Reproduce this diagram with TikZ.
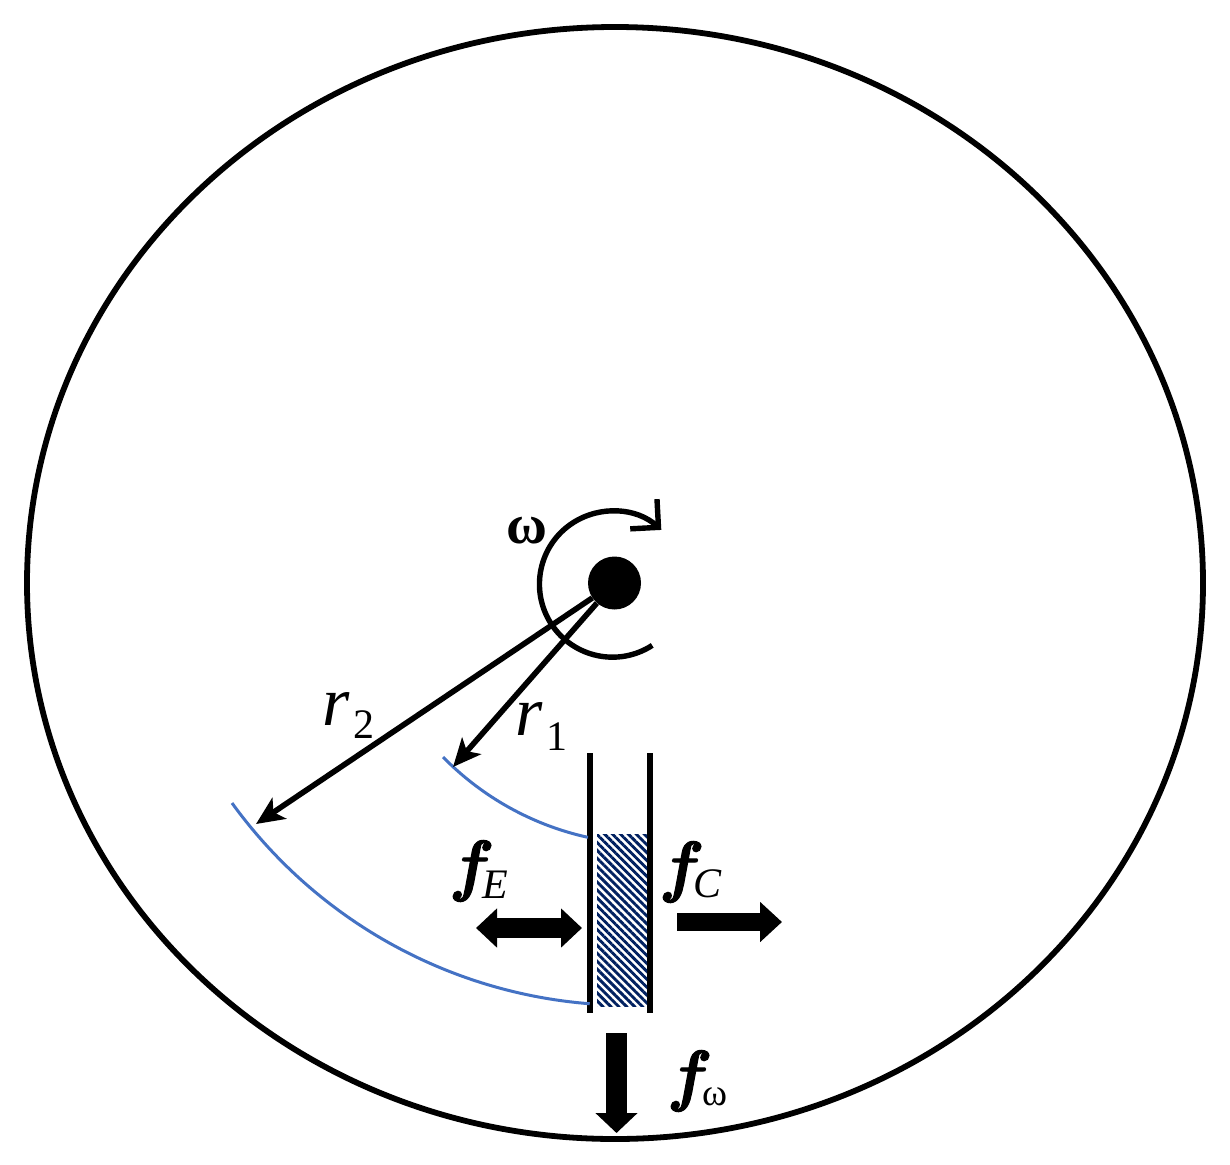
\documentclass[tikz,border=0pt]{standalone}
\usepackage{fontspec}
\setmainfont{Liberation Serif}
\newfontface\boldffont{lmroman10-bolditalic.otf}[FakeBold=1.6]
\usetikzlibrary{arrows.meta,patterns.meta}
\definecolor{arcblue}{RGB}{68,114,196}
\definecolor{hatchnavy}{RGB}{0,32,96}
\newcommand\myfs[1]{\fontsize{#1}{#1}\selectfont}
\newcommand\boldf{{\boldffont f}}
\begin{document}
\begin{tikzpicture}[x=1pt,y=-1pt,
  discline/.style={line width=5.8pt},
  blackline/.style={line width=5.4pt},
  blueline/.style={arcblue, line width=3pt},
  lbl/.style={inner sep=0pt, outer sep=0pt, anchor=base},
  radarrow/.style={line width=5.6pt, -{Stealth[length=28pt,width=25pt,inset=7pt]}},
  ]
\useasboundingbox (0,0) rectangle (1230,1164);
% outer disc
\draw[discline] (615,583) ellipse [x radius=588, y radius=556];
% hub
\node[circle, fill=black, minimum size=53pt, inner sep=0pt] (hub) at (614.5,583) {};
% rotation arrow
\draw[blackline, -{Straight Barb[length=20pt,width=40pt]}] (613,585) ++(57:72) arc[start angle=57, end angle=312, radius=73];
% tube
\draw[blackline] (590,753) -- (590,1013);
\draw[blackline] (650,753) -- (650,1013);
\path[pattern={Lines[angle=-45,distance=5.6pt,line width=2.9pt]}, pattern color=hatchnavy] (597,834) rectangle (647,1006);
% blue arcs
\draw[blueline] (443,757) arc[start angle=135.6, end angle=102.4, radius=290];
\draw[blueline] (232,803) arc[start angle=144.1, end angle=94.5, radius=489];
% radius arrows
\coordinate (r1tip) at (453,767);
\coordinate (r2tip) at (256,824);
\draw[radarrow] (hub) -- (r1tip);
\draw[radarrow] (hub) -- (r2tip);
% force arrows
\coordinate (feL) at (476,928);
\coordinate (feR) at (582,928);
\draw[line width=20pt, {Triangle[length=21pt,width=38pt]}-{Triangle[length=21pt,width=38pt]}] (feL) -- (feR);
\coordinate (fcS) at (677,922);
\coordinate (fcE) at (782,922);
\draw[line width=18pt, -{Triangle[length=22pt,width=39pt]}] (fcS) -- (fcE);
\coordinate (fwS) at (616.5,1033);
\coordinate (fwE) at (616.5,1133);
\draw[line width=21pt, -{Triangle[length=20pt,width=41pt]}] (fwS) -- (fwE);
% labels
\node[lbl] (omega) at (527,543) {\myfs{56}\bfseries ω};
\node[lbl] (r2main) at (336,725) {\myfs{70}\itshape r};
\node[lbl] (r2sub) at (364,738) {\myfs{42}2};
\node[lbl] (r1main) at (529,735) {\myfs{70}\itshape r};
\node[lbl] (r1sub) at (557,750) {\myfs{42}1};
\node[lbl] (fE) at (468,888) {\myfs{68}\boldf};
\node[lbl] (fEsub) at (495,898) {\myfs{42}\itshape E};
\node[lbl] (fC) at (678,889) {\myfs{68}\boldf};
\node[lbl] (fCsub) at (707,897) {\myfs{42}\itshape C};
\node[lbl] (fw) at (686,1098) {\myfs{68}\boldf};
\node[lbl] (fwsub) at (715,1105) {\myfs{38}ω};
\end{tikzpicture}
\end{document}
